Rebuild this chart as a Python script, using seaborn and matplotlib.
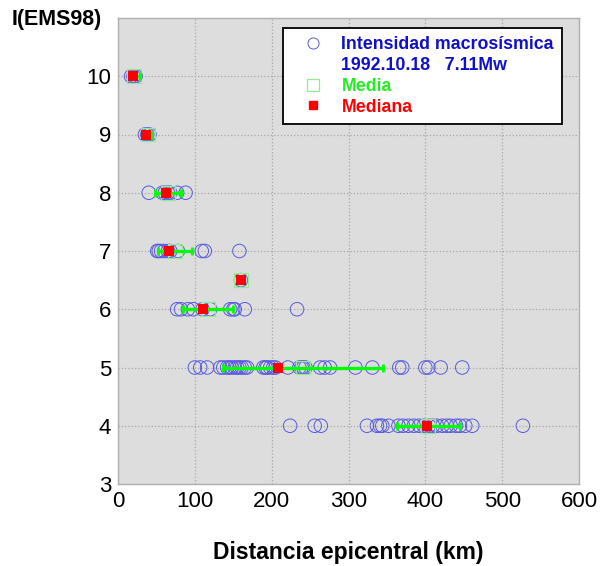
import numpy as np
import pandas as pd
import matplotlib
matplotlib.use('Agg')
import matplotlib.pyplot as plt
import seaborn as sns
from matplotlib.lines import Line2D

# Observed intensities (EMS98) vs epicentral distance (km), 1992.10.18 7.11Mw
puntos = {
    10: [17, 20, 23],
    9: [35, 38, 41],
    8: [40, 58, 61, 65, 68, 77, 88],
    7: [51, 53, 56, 60, 65, 68, 78, 109, 113, 158],
    6.5: [160],
    6: [77, 82, 91, 98, 110, 120, 146, 150, 152, 165, 233],
    5: [100, 107, 116, 133, 137, 142, 145, 148, 152, 155, 158, 161, 165, 168,
        189, 192, 194, 198, 202, 205, 221, 236, 239, 241, 244, 263, 269, 276,
        309, 331, 366, 370, 400, 404, 420, 448],
    4: [224, 256, 264, 324, 337, 341, 344, 352, 365, 371, 378, 385, 392, 398,
        405, 410, 415, 422, 428, 433, 440, 445, 452, 461, 527],
}

# mean, median and std per intensity
intensidades = [10, 9, 8, 7, 6.5, 6, 5, 4]
medias = [21, 39, 65, 74, 160, 117, 241, 404]
medianas = [20, 36, 62, 66, 160, 110, 208, 402]
desv = [7, 5, 17, 22.5, 0, 33, 104, 41]

df = pd.DataFrame([(d, i) for i, ds in puntos.items() for d in ds],
                  columns=['distancia', 'intensidad'])
stats = pd.DataFrame({'intensidad': intensidades, 'media': medias,
                      'mediana': medianas, 'desv': desv})

azul = '#5a5ae0'
verde_claro = '#90ee90'
verde = '#00ff00'
rojo = '#ff0000'

sns.set_style('white')
plt.rcParams['font.family'] = ['Liberation Sans', 'DejaVu Sans']
plt.rcParams['text.color'] = 'black'
plt.rcParams['axes.labelcolor'] = 'black'
plt.rcParams['xtick.labelcolor'] = 'black'
plt.rcParams['ytick.labelcolor'] = 'black'

fig = plt.figure(figsize=(6.03, 5.66), dpi=100)
ax = fig.add_axes([118 / 603, 1 - 484 / 566, 461 / 603, 466 / 566])
ax.set_facecolor('#dcdddc')

sns.scatterplot(data=df, x='distancia', y='intensidad', ax=ax, marker='o',
                s=95, fc='none', ec=azul, linewidth=0.7, zorder=3)
sns.scatterplot(data=stats, x='media', y='intensidad', ax=ax, marker='s',
                s=100, fc='none', ec=verde_claro, linewidth=0.9, zorder=4)
ax.errorbar(stats['media'], stats['intensidad'], xerr=stats['desv'],
            fmt='none', ecolor=verde, elinewidth=2.4, capsize=2.6,
            capthick=2, zorder=5)
sns.scatterplot(data=stats, x='mediana', y='intensidad', ax=ax, marker='s',
                s=50, color=rojo, linewidth=0, zorder=6)

ax.set_xlim(0, 600)
ax.set_ylim(3, 11)
ax.set_xticks(range(0, 601, 100))
ax.set_yticks(range(3, 11))
ax.grid(True, color='#a8a8a8', linestyle=':', linewidth=0.9)
ax.set_axisbelow(True)
for sp in ax.spines.values():
    sp.set_color('#b0b0b0')
    sp.set_linewidth(1)
ax.tick_params(axis='both', direction='in', length=5, color='#888888',
               labelsize=16, pad=5, labelcolor='black')
ax.set_xlabel('Distancia epicentral (km)', fontsize=16.5, fontweight='bold',
              labelpad=21, color='black')
ax.set_ylabel('')
fig.text(12 / 603, 1 - 20 / 566, 'I(EMS98)', fontsize=15.5,
         fontweight='bold', ha='left', va='center', color='black')

handles = [
    Line2D([], [], marker='o', ls='none', ms=8, mfc='none', mec=azul, mew=0.7),
    Line2D([], [], ls='none'),
    Line2D([], [], marker='s', ls='none', ms=9, mfc='none', mec=verde_claro,
           mew=0.9),
    Line2D([], [], marker='s', ls='none', ms=6, mfc=rojo, mec=rojo),
]
etiquetas = ['Intensidad macrosísmica', '1992.10.18   7.11Mw', 'Media', 'Mediana']
leg = ax.legend(handles, etiquetas, loc='upper right',
                bbox_to_anchor=(0.963, 0.9785), borderaxespad=0,
                frameon=True, fancybox=False,
                framealpha=1, edgecolor='black', handletextpad=0.35,
                labelspacing=0.22, borderpad=0.45, handlelength=2.5,
                prop={'weight': 'bold', 'size': 12.75})
leg.get_frame().set_linewidth(1.3)
for txt, col in zip(leg.get_texts(), ['#1010c8', '#1010c8', '#22ee22', rojo]):
    txt.set_color(col)

fig.savefig('out.png', dpi=100)
